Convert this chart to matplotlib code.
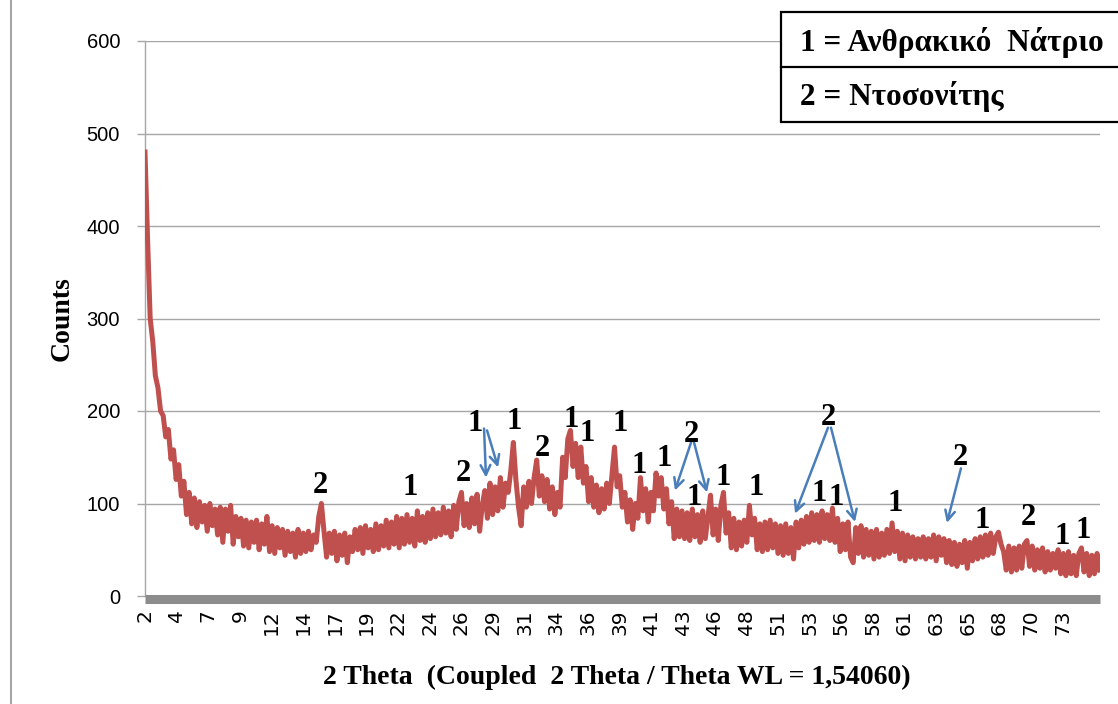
import numpy as np
import matplotlib
matplotlib.use("Agg")
import matplotlib.pyplot as plt
from matplotlib.patches import Rectangle
from matplotlib.lines import Line2D

# XRD counts, one value every 0.2 deg from 2.0 to 75.6
counts_2_20 = [
    480, 385, 300, 275, 238, 225, 200, 195, 172, 180,
    148, 158, 126, 142, 108, 124, 88, 112, 78, 106,
    74, 102, 80, 98, 70, 100, 76, 94, 66, 96,
    58, 94, 70, 98, 56, 86, 64, 84, 54, 82,
    52, 80, 58, 82, 50, 78, 56, 86, 48, 76,
    46, 74, 52, 72, 44, 70, 48, 68, 42, 72,
    46, 68, 48, 70, 50, 66, 58, 86, 100, 70,
    42, 68, 46, 70, 38, 66, 44, 68, 36, 64,
    48, 72, 50, 74, 46, 76, 52, 72, 48, 78,
]
counts_20_40 = [
    50, 76, 54, 82, 52, 80, 56, 86, 52, 84,
    56, 88, 58, 84, 54, 92, 60, 86, 58, 90,
    62, 94, 64, 90, 66, 96, 68, 92, 64, 98,
    72, 102, 112, 76, 100, 74, 106, 78, 110, 70,
    98, 114, 84, 122, 88, 118, 92, 128, 96, 122,
    112, 135, 166, 125, 96, 76, 118, 96, 124, 100,
    128, 147, 108, 130, 102, 126, 94, 118, 88, 112,
    96, 150, 128, 170, 179, 140, 165, 128, 161, 122,
    140, 102, 128, 96, 120, 90, 116, 94, 122, 100,
    130, 161, 118, 130, 96, 112, 80, 104, 72, 100,
]
counts_40_60 = [
    84, 128, 92, 116, 80, 112, 92, 133, 108, 128,
    94, 116, 78, 102, 62, 94, 64, 92, 62, 90,
    60, 94, 64, 88, 58, 92, 62, 86, 109, 66,
    94, 60, 98, 112, 68, 90, 52, 84, 50, 80,
    54, 82, 58, 98, 66, 84, 50, 78, 48, 80,
    50, 82, 52, 78, 46, 76, 44, 78, 46, 74,
    40, 80, 52, 82, 56, 86, 58, 90, 60, 88,
    58, 92, 62, 88, 60, 95, 58, 84, 48, 78,
    50, 80, 42, 36, 74, 46, 76, 42, 72, 44,
    70, 40, 72, 42, 68, 44, 72, 46, 79, 48,
]
counts_60_76 = [
    70, 40, 68, 38, 66, 42, 64, 40, 62, 42,
    64, 40, 62, 42, 66, 38, 64, 44, 62, 36,
    60, 34, 58, 32, 56, 36, 60, 30, 58, 38,
    62, 40, 64, 42, 66, 44, 68, 46, 64, 69,
    56, 48, 28, 54, 26, 52, 28, 54, 30, 56,
    60, 32, 54, 28, 50, 30, 52, 26, 48, 28,
    46, 30, 50, 24, 46, 22, 48, 24, 44, 22,
    46, 52, 26, 46, 22, 44, 24, 46, 28,
]
counts = counts_2_20 + counts_20_40 + counts_40_60 + counts_60_76
two_theta = np.round(2.0 + 0.2 * np.arange(len(counts)), 1)

# category-style tick labels (every 2.44 deg, rounded)
tick_labels = ['2', '4', '7', '9', '12', '14', '17', '19', '22', '24', '26', '29',
               '31', '34', '36', '39', '41', '43', '46', '48', '51', '53', '56',
               '58', '61', '63', '65', '68', '70', '73']
tick_step = 2.44

# phase marks: (label, 2theta, counts)
peak_marks = [
    ('2', 15.49, 119), ('1', 22.43, 117), ('2', 26.52, 132), ('1', 27.44, 186),
    ('1', 30.45, 189), ('2', 32.61, 160), ('1', 34.85, 191), ('1', 36.08, 176),
    ('1', 38.62, 186), ('1', 40.09, 141), ('1', 42.02, 149), ('2', 44.10, 175),
    ('1', 44.33, 106), ('1', 46.56, 128), ('1', 49.11, 117), ('2', 54.66, 193),
    ('1', 53.97, 111), ('1', 55.28, 107), ('1', 59.83, 100), ('2', 64.84, 150),
    ('1', 66.53, 82), ('2', 70.08, 85), ('1', 72.70, 64), ('1', 74.32, 71),
]
# arrows: (start 2theta, start counts, tip 2theta, tip counts)
arrows = [
    (28.14, 181, 28.29, 128), (28.37, 179, 29.22, 139),
    (44.10, 166, 42.86, 114), (44.33, 166, 45.33, 112),
    (54.66, 182, 52.12, 89), (54.89, 182, 56.74, 80),
    (64.91, 138, 63.83, 79),
]

serif = 'Liberation Serif'
grid_col = '#a6a6a6'

fig = plt.figure(figsize=(11.18, 7.04), dpi=100)
ax = fig.add_axes([145 / 1118, 108 / 704, 955 / 1118, 555 / 704])

ax.plot(two_theta, counts, color='#c0504d', lw=3.6, solid_joinstyle='round', zorder=3)

ax.set_xlim(2.0, 75.63)
ax.set_ylim(0, 600)
ax.set_yticks(range(0, 601, 100))
ax.yaxis.grid(True, color=grid_col, lw=1)
ax.set_axisbelow(True)

ax.set_xticks([2.0 + tick_step * k for k in range(len(tick_labels))])
ax.set_xticklabels(tick_labels)
ax.tick_params(axis='x', length=0, pad=8, labelrotation=90, labelsize=14.5)
ax.tick_params(axis='y', length=6, width=1, color=grid_col, pad=12, labelsize=14.5)
for lab in ax.get_xticklabels() + ax.get_yticklabels():
    lab.set_fontfamily('Liberation Sans')

for side in ['top', 'right']:
    ax.spines[side].set_visible(False)
ax.spines['left'].set_color(grid_col)
ax.spines['left'].set_linewidth(1)
ax.spines['bottom'].set_color('#8c8c8c')
ax.spines['bottom'].set_linewidth(6.5)
ax.spines['bottom'].set_position(('outward', 1.8))
ax.spines['bottom'].set_capstyle('butt')

ax.set_ylabel('Counts', fontfamily=serif, fontweight='bold', fontsize=20)
ax.yaxis.set_label_coords(-70 / 955, 0.5)
ax.set_xlabel('2 Theta  (Coupled  2 Theta / Theta WL = 1,54060)',
              fontfamily=serif, fontweight='bold', fontsize=20)
ax.xaxis.set_label_coords(472 / 955, -69 / 555)

for lab, x, y in peak_marks:
    ax.text(x, y, lab, ha='center', va='center', fontfamily=serif,
            fontweight='bold', fontsize=22, zorder=5)

for x0, y0, x1, y1 in arrows:
    ax.annotate('', xy=(x1, y1), xytext=(x0, y0),
                arrowprops=dict(arrowstyle='->,head_length=0.7,head_width=0.35',
                                color='#4a7ebb', lw=1.8, shrinkA=0, shrinkB=0),
                zorder=4)

# legend table in the top right corner
box = Rectangle((781 / 1118, 1 - 122 / 704), 400 / 1118, 110 / 704,
                transform=fig.transFigure, facecolor='white', edgecolor='black',
                lw=1.6, zorder=6, clip_on=False)
fig.add_artist(box)
fig.add_artist(Line2D([781 / 1118, 1], [1 - 67 / 704] * 2, transform=fig.transFigure,
                      color='black', lw=1.6, zorder=7))
fig.text(800 / 1118, 1 - 42 / 704, '1 = Ανθρακικό  Νάτριο', ha='left', va='center',
         fontfamily=serif, fontweight='bold', fontsize=22.5, zorder=8)
fig.text(800 / 1118, 1 - 97 / 704, '2 = Ντοσονίτης', ha='left', va='center',
         fontfamily=serif, fontweight='bold', fontsize=22.5, zorder=8)

# chart frame edge on the left
fig.add_artist(Line2D([11 / 1118] * 2, [0, 1], transform=fig.transFigure,
                      color='#a6a6a6', lw=1.5))

fig.savefig('out.png', dpi=100)
